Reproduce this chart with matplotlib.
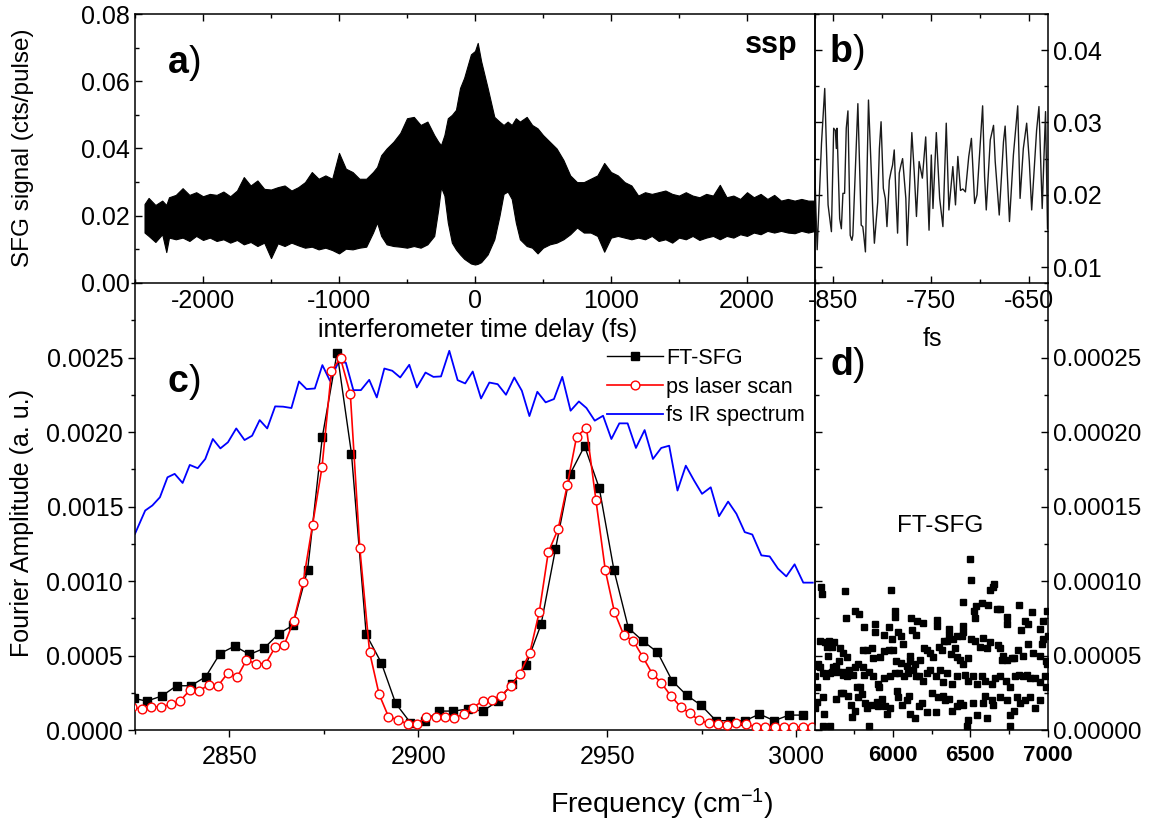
import matplotlib

matplotlib.use("Agg")
import matplotlib.pyplot as plt
from matplotlib.ticker import MultipleLocator, FormatStrFormatter, FixedLocator
import numpy as np

W, H = 1153, 822

# ---- panel a: interferogram, envelope (fs, cts/pulse)
a_delay = [-2430, -2400, -2350, -2300, -2270, -2250, -2200, -2150, -2100, -2050,
           -2000, -1950, -1900, -1850, -1800, -1750, -1700, -1650, -1600, -1550,
           -1500, -1450, -1400, -1350, -1300, -1250, -1200, -1150, -1100, -1050,
           -1000, -950, -900, -850, -800, -750, -720, -690, -650, -600,
           -550, -500, -450, -400, -350, -300, -270, -250, -225, -200,
           -170, -140, -110, -80, -30, 0, 20, 45, 93, 142,
           180, 210, 240, 270, 300, 330, 380, 420, 460, 500,
           550, 600, 650, 700, 750, 800, 850, 900, 950, 1000,
           1050, 1100, 1150, 1200, 1250, 1300, 1350, 1400, 1450, 1500,
           1550, 1600, 1650, 1700, 1750, 1800, 1850, 1900, 1950, 2000,
           2050, 2100, 2150, 2200, 2250, 2300, 2350, 2400, 2450, 2500]
a_upper = [0.0235, 0.0253, 0.0232, 0.0245, 0.0232, 0.0255, 0.0262, 0.0282, 0.0262, 0.0270,
           0.0258, 0.0265, 0.0262, 0.0272, 0.0258, 0.0275, 0.0315, 0.0290, 0.0305, 0.0280,
           0.0278, 0.0285, 0.0290, 0.0275, 0.0285, 0.0300, 0.0330, 0.0310, 0.0320, 0.0310,
           0.0387, 0.0340, 0.0330, 0.0310, 0.0310, 0.0330, 0.0345, 0.0380, 0.0400, 0.0420,
           0.0446, 0.0490, 0.0494, 0.0470, 0.0480, 0.0440, 0.0420, 0.0410, 0.0440, 0.0490,
           0.0500, 0.0515, 0.0580, 0.0610, 0.0680, 0.0690, 0.0714, 0.0660, 0.0580, 0.0494,
           0.0480, 0.0470, 0.0480, 0.0470, 0.0490, 0.0480, 0.0494, 0.0470, 0.0460, 0.0440,
           0.0420, 0.0400, 0.0366, 0.0320, 0.0300, 0.0300, 0.0310, 0.0320, 0.0357, 0.0330,
           0.0320, 0.0300, 0.0290, 0.0260, 0.0270, 0.0265, 0.0270, 0.0275, 0.0265, 0.0260,
           0.0270, 0.0260, 0.0255, 0.0265, 0.0260, 0.0292, 0.0255, 0.0260, 0.0250, 0.0270,
           0.0255, 0.0265, 0.0250, 0.0262, 0.0245, 0.0250, 0.0245, 0.0250, 0.0245, 0.0245]
a_lower = [0.0150, 0.0140, 0.0122, 0.0145, 0.0092, 0.0135, 0.0130, 0.0135, 0.0125, 0.0140,
           0.0128, 0.0135, 0.0125, 0.0130, 0.0120, 0.0128, 0.0115, 0.0122, 0.0110, 0.0120,
           0.0074, 0.0118, 0.0110, 0.0120, 0.0112, 0.0105, 0.0108, 0.0100, 0.0105, 0.0098,
           0.0088, 0.0102, 0.0100, 0.0105, 0.0108, 0.0150, 0.0180, 0.0140, 0.0115, 0.0110,
           0.0108, 0.0105, 0.0110, 0.0105, 0.0115, 0.0140, 0.0220, 0.0285, 0.0260, 0.0180,
           0.0120, 0.0100, 0.0085, 0.0072, 0.0058, 0.0055, 0.0057, 0.0062, 0.0085, 0.0130,
           0.0200, 0.0265, 0.0272, 0.0250, 0.0180, 0.0130, 0.0110, 0.0105, 0.0088, 0.0105,
           0.0115, 0.0120, 0.0130, 0.0145, 0.0165, 0.0150, 0.0150, 0.0140, 0.0093, 0.0135,
           0.0140, 0.0135, 0.0130, 0.0135, 0.0130, 0.0140, 0.0125, 0.0130, 0.0120, 0.0135,
           0.0130, 0.0140, 0.0128, 0.0135, 0.0140, 0.0130, 0.0140, 0.0135, 0.0145, 0.0140,
           0.0150, 0.0145, 0.0155, 0.0150, 0.0155, 0.0150, 0.0148, 0.0155, 0.0150, 0.0155]

# ---- panel b: zoom of the interferogram (fs, cts/pulse)
b_delay = [-868.2, -865.8, -861.4, -858.1, -854.7, -851.3, -849.0, -847.3, -846.3, -845.6,
           -842.9, -841.2, -839.6, -837.9, -836.2, -834.5, -832.2, -830.5, -829.5, -824.4,
           -821.0, -819.4, -818.4, -816.7, -813.6, -809.3, -807.6, -804.2, -802.5, -800.8,
           -798.5, -796.5, -794.8, -792.4, -790.7, -789.1, -787.4, -785.7, -784.0, -782.3,
           -780.6, -778.9, -775.6, -774.2, -769.5, -767.1, -764.8, -762.1, -758.8, -755.4,
           -752.0, -749.7, -748.0, -744.6, -741.2, -737.9, -734.5, -731.8, -727.8, -725.1,
           -722.7, -720.0, -717.6, -715.0, -711.6, -708.9, -705.6, -703.2, -697.5, -695.5,
           -693.8, -689.7, -686.4, -684.7, -680.6, -676.3, -674.6, -670.2, -666.2, -661.8,
           -659.4, -656.1, -652.7, -650.0, -647.6, -642.6, -640.2, -636.9, -633.5, -631.5]
b_signal = [0.0232, 0.0124, 0.0271, 0.0347, 0.0186, 0.0149, 0.0292, 0.0289, 0.0264, 0.0292,
            0.0167, 0.0153, 0.0202, 0.0202, 0.0292, 0.0316, 0.0144, 0.0137, 0.0144, 0.0326,
            0.0158, 0.0156, 0.0144, 0.0121, 0.0331, 0.0181, 0.0133, 0.0190, 0.0264, 0.0301,
            0.0209, 0.0195, 0.0156, 0.0220, 0.0232, 0.0241, 0.0262, 0.0200, 0.0147, 0.0230,
            0.0241, 0.0250, 0.0195, 0.0130, 0.0286, 0.0232, 0.0170, 0.0246, 0.0223, 0.0280,
            0.0151, 0.0255, 0.0181, 0.0286, 0.0195, 0.0156, 0.0299, 0.0179, 0.0239, 0.0186,
            0.0253, 0.0206, 0.0208, 0.0204, 0.0253, 0.0278, 0.0188, 0.0200, 0.0323, 0.0225,
            0.0179, 0.0276, 0.0296, 0.0246, 0.0172, 0.0273, 0.0295, 0.0163, 0.0255, 0.0323,
            0.0195, 0.0264, 0.0299, 0.0246, 0.0179, 0.0289, 0.0322, 0.0181, 0.0315, 0.0153]

# ---- panel c: spectra (cm-1, a.u.)
ft_freq = [2824.7, 2828.1, 2832.1, 2836.0, 2839.8, 2843.7, 2847.5, 2851.4, 2855.3, 2859.1,
           2863.0, 2866.8, 2870.7, 2874.6, 2878.5, 2882.3, 2886.2, 2890.2, 2894.0, 2897.9,
           2901.7, 2905.5, 2909.3, 2913.2, 2917.1, 2921.0, 2924.7, 2928.5, 2932.5, 2936.3,
           2940.2, 2944.0, 2947.9, 2951.8, 2955.6, 2959.5, 2963.3, 2967.2, 2971.0, 2974.9,
           2978.8, 2982.6, 2986.5, 2990.3, 2994.2, 2998.1, 3001.9]
ft_amp = [0.000212, 0.000194, 0.000228, 0.000297, 0.000297, 0.000357, 0.000513, 0.000563, 0.000507, 0.000547,
          0.000645, 0.000703, 0.001076, 0.001969, 0.002533, 0.001855, 0.000641, 0.000451, 0.000179, 0.000049,
          0.0000625, 0.000127, 0.000127, 0.000141, 0.000127, 0.000194, 0.000306, 0.000435, 0.000710, 0.001214,
          0.001719, 0.001906, 0.001623, 0.001071, 0.000685, 0.000596, 0.000522, 0.000330, 0.000234, 0.000165,
          0.0000625, 0.0000625, 0.0000625, 0.000107, 0.0000625, 0.000100, 0.000100]

ps_freq = [2824.3, 2826.8, 2829.3, 2831.9, 2834.5, 2837.0, 2839.5, 2841.9, 2844.5, 2847.0,
           2849.6, 2852.0, 2854.5, 2857.0, 2859.6, 2862.1, 2864.5, 2867.0, 2869.5, 2872.0,
           2874.5, 2877.0, 2879.4, 2882.0, 2884.5, 2887.1, 2889.6, 2892.1, 2894.7, 2897.2,
           2899.6, 2902.1, 2904.6, 2907.0, 2909.5, 2912.0, 2914.4, 2917.0, 2919.5, 2921.9,
           2924.5, 2926.9, 2929.5, 2932.0, 2934.4, 2937.0, 2939.4, 2941.9, 2944.5, 2947.0,
           2949.5, 2951.9, 2954.4, 2956.9, 2959.4, 2961.9, 2964.3, 2966.8, 2969.4, 2971.8,
           2974.3, 2976.9, 2979.3, 2981.8, 2984.2, 2986.8, 2989.3, 2991.7, 2994.3, 2996.7,
           2999.2, 3001.7, 3004.1]
ps_amp = [0.000152, 0.000141, 0.000156, 0.000156, 0.000172, 0.000196, 0.000268, 0.000263, 0.000301, 0.000297,
          0.000384, 0.000353, 0.000469, 0.000446, 0.000446, 0.000556, 0.000571, 0.000732, 0.000991, 0.001377,
          0.001763, 0.002411, 0.002495, 0.002254, 0.001223, 0.000522, 0.000241, 0.0000893, 0.0000670, 0.0000402,
          0.0000402, 0.0000848, 0.0000893, 0.0000893, 0.0000826, 0.000105, 0.000150, 0.000194, 0.000201, 0.000230,
          0.000295, 0.000379, 0.000518, 0.000790, 0.001194, 0.001348, 0.001641, 0.001969, 0.002027, 0.001545,
          0.001071, 0.000792, 0.000636, 0.000598, 0.000491, 0.000379, 0.000317, 0.000230, 0.000156, 0.000112,
          0.0000670, 0.0000446, 0.0000402, 0.0000312, 0.0000446, 0.0000379, 0.0000223, 0.0000223, 0.0000223, 0.0000179,
          0.0000179, 0.0000223, 0.0000179]

ir_freq = [2825.0, 2827.7, 2829.6, 2831.6, 2833.6, 2835.5, 2837.6, 2839.5, 2841.6, 2843.6,
           2845.6, 2847.6, 2849.6, 2851.8, 2854.0, 2856.0, 2858.0, 2860.0, 2862.1, 2864.2,
           2866.4, 2868.4, 2870.4, 2872.6, 2874.6, 2876.6, 2878.8, 2880.8, 2882.8, 2884.8,
           2887.0, 2889.0, 2891.0, 2893.1, 2895.2, 2897.6, 2899.6, 2901.9, 2904.0, 2906.0,
           2908.2, 2910.4, 2912.4, 2914.4, 2916.6, 2918.8, 2921.0, 2923.2, 2925.4, 2927.4,
           2929.4, 2931.5, 2933.7, 2935.9, 2938.1, 2940.3, 2942.5, 2944.5, 2946.7, 2948.9,
           2951.1, 2953.2, 2955.4, 2957.6, 2959.9, 2962.1, 2964.3, 2966.4, 2968.6, 2970.8,
           2973.0, 2975.1, 2977.4, 2979.6, 2982.0, 2984.2, 2986.4, 2988.4, 2990.8, 2993.0,
           2995.2, 2997.4, 2999.6, 3001.9, 3004.4]
ir_amp = [0.001317, 0.001473, 0.001507, 0.001562, 0.001696, 0.001719, 0.001658, 0.001779, 0.001757, 0.001819,
          0.001953, 0.001890, 0.001931, 0.002024, 0.001946, 0.001975, 0.002080, 0.002024, 0.002172, 0.002170,
          0.002161, 0.002339, 0.002288, 0.002292, 0.002449, 0.002344, 0.002466, 0.002466, 0.002281, 0.002281,
          0.002350, 0.002232, 0.002426, 0.002411, 0.002366, 0.002451, 0.002299, 0.002399, 0.002370, 0.002373,
          0.002545, 0.002348, 0.002326, 0.002406, 0.002225, 0.002332, 0.002321, 0.002250, 0.002366, 0.002277,
          0.002107, 0.002270, 0.002199, 0.002221, 0.002370, 0.002143, 0.002205, 0.002161, 0.002076, 0.002109,
          0.001953, 0.002058, 0.002058, 0.001893, 0.002013, 0.001819, 0.001893, 0.001908, 0.001607, 0.001774,
          0.001674, 0.001585, 0.001629, 0.001435, 0.001533, 0.001451, 0.001328, 0.001312, 0.001172, 0.001165,
          0.001083, 0.001031, 0.001112, 0.000989, 0.000989]

# ---- panel d: FT-SFG at high frequency (cm-1, amplitude in 1e-5 a.u.)
d_freq = [5537, 5543, 5695, 5700, 5758, 5786, 5816, 5886, 5886, 5944, 5977, 5989, 5994, 6017, 6015,
          6037, 6052, 6069, 6118, 6123, 6155, 6150, 6198, 6283, 6288, 6365, 6365, 6451, 6451, 6455,
          6498, 6502, 6524, 6530, 6537, 6573, 6616, 6627, 6644, 6653, 6670, 6691, 6734, 6734, 6814,
          6826, 6852, 6874, 6895, 6949, 6966, 6996, 7000,
          5532, 5565, 5592, 5622, 5575, 5607, 5661, 5683, 5704, 5586, 5657, 5635, 5607, 5683, 5721,
          5758, 5779, 5811, 5811, 5837, 5865, 5876, 5919, 5944, 5979, 6005, 6022, 6052, 6090, 6112,
          6112, 6144, 6176, 6202, 6223, 6241, 6262, 6301, 6316, 6331, 6352, 6386, 6401, 6412, 6444,
          6374, 6412, 6434, 6451, 6487, 6502, 6530, 6562, 6584, 6605, 6627, 6680, 6691, 6713, 6706,
          6734, 6766, 6781, 6809, 6841, 6874, 6906, 6949, 6960, 6970, 6987, 6996, 5494, 5522, 5532,
          5500, 5511, 5550, 5571, 5597, 5614, 5650, 5683, 5708, 5747, 5768, 5790, 5816, 5850, 5876,
          5908, 5914, 5944, 5983, 6015, 6043, 6073, 6101, 6133, 6150, 6172, 6198, 6219, 6241, 6279,
          6305, 6326, 6348, 6380, 6412, 6466, 6487, 6520, 6541, 6573, 6595, 6638, 6659, 6691, 6730,
          6756, 6788, 6816, 6841, 6863, 6884, 6917, 6949, 6981, 6987,
          5500, 5511, 5554, 5558, 5550, 5597, 5635, 5665, 5683, 5715, 5730, 5736, 5758, 5779, 5801,
          5822, 5837, 5850, 5865, 5897, 5908, 5929, 5951, 5966, 5983, 6026, 6037, 6058, 6090, 6107,
          6112, 6144, 6172, 6187, 6219, 6251, 6279, 6294, 6322, 6337, 6365, 6380, 6412, 6434, 6455,
          6477, 6483, 6520, 6541, 6580, 6595, 6605, 6638, 6648, 6691, 6734, 6756, 6756, 6781, 6799,
          6820, 6852, 6884, 6917, 6949]
d_amp_e5 = [9.6, 9.1, 9.3, 7.5, 8.0, 7.8, 6.9, 7.1, 6.6, 6.4, 6.9, 9.4, 6.1, 8.0, 7.6,
            6.6, 6.3, 5.8, 7.5, 6.7, 7.3, 6.4, 7.2, 7.4, 7.0, 6.8, 6.4, 8.6, 7.0, 6.6,
            11.5, 10.1, 8.0, 7.5, 8.3, 8.5, 8.4, 9.4, 9.6, 9.8, 8.1, 8.1, 7.6, 7.1, 8.4,
            6.7, 7.3, 7.1, 7.9, 6.8, 7.3, 8.0, 6.3,
            6.0, 5.9, 6.0, 5.9, 5.6, 5.6, 5.5, 5.2, 4.9, 5.0, 4.6, 4.3, 3.9, 3.9, 4.0,
            4.2, 4.4, 4.2, 5.4, 5.4, 5.5, 4.8, 4.9, 5.3, 5.4, 5.4, 4.6, 4.5, 4.3, 5.0,
            4.6, 4.4, 4.7, 5.5, 5.4, 5.2, 4.9, 5.6, 5.4, 6.0, 6.0, 6.1, 5.5, 6.3, 6.3,
            5.1, 4.9, 4.7, 4.4, 4.8, 6.1, 6.0, 5.6, 6.2, 5.5, 5.9, 5.7, 5.5, 5.0, 4.7,
            4.7, 4.8, 4.8, 5.4, 5.0, 5.8, 5.2, 5.0, 5.8, 6.1, 4.6, 4.4, 4.3, 4.4, 4.2,
            3.6, 2.9, 3.8, 3.6, 3.8, 4.2, 3.9, 3.7, 3.6, 3.7, 2.9, 2.9, 3.7, 3.9, 3.6,
            3.1, 2.9, 3.5, 3.6, 3.8, 3.8, 3.6, 3.8, 4.0, 3.6, 3.6, 3.3, 3.8, 4.0, 3.6,
            4.0, 3.2, 3.8, 3.1, 3.6, 3.7, 3.3, 3.6, 3.1, 3.6, 3.3, 3.1, 3.5, 3.6, 3.3,
            2.9, 3.6, 3.7, 3.6, 3.7, 3.5, 3.5, 3.2, 3.6, 2.9,
            1.5, 1.9, 2.2, 1.1, 0.3, 0.3, 2.1, 2.5, 2.5, 2.3, 1.7, 0.9, 1.3, 2.2, 2.4,
            1.8, 1.5, 0.3, 1.7, 1.9, 1.6, 2.1, 1.6, 1.1, 1.5, 2.6, 2.2, 1.7, 2.0, 2.3,
            1.1, 0.8, 1.6, 1.8, 1.2, 2.5, 1.2, 2.2, 2.3, 2.0, 2.1, 1.3, 1.6, 1.8, 1.7,
            0.3, 0.7, 1.8, 1.0, 1.8, 2.3, 0.8, 2.0, 1.7, 2.2, 2.0, 1.0, 0.3, 1.3, 2.2,
            1.8, 2.0, 2.2, 1.5, 2.0]

plt.rcParams.update({
    "font.family": ["Liberation Sans", "DejaVu Sans"],
    "font.size": 18,
    "mathtext.default": "regular",
    "axes.unicode_minus": False,
    "axes.linewidth": 1.1,
    "xtick.major.width": 1.0,
    "ytick.major.width": 1.0,
    "xtick.minor.width": 1.0,
    "ytick.minor.width": 1.0,
    "xtick.major.size": 5,
    "ytick.major.size": 5,
    "xtick.minor.size": 3,
    "ytick.minor.size": 3,
})


def box(x0, y0, x1, y1):
    return [x0 / W, 1 - y1 / H, (x1 - x0) / W, (y1 - y0) / H]


fig = plt.figure(figsize=(W / 100, H / 100), dpi=100)
ax_c = fig.add_axes(box(135, 283, 815, 730))
ax_d = fig.add_axes(box(815, 283, 1048, 730))
ax_a = fig.add_axes(box(135, 14, 815, 283))
ax_b = fig.add_axes(box(815, 14, 1048, 283))
for ax in (ax_a, ax_b, ax_c, ax_d):
    ax.patch.set_visible(False)

# a) interferogram
ax_a.fill_between(a_delay, a_lower, a_upper, color="black", lw=0.8)
ax_a.set_xlim(-2500, 2500)
ax_a.set_ylim(0, 0.08)
ax_a.xaxis.set_major_locator(MultipleLocator(1000))
ax_a.xaxis.set_minor_locator(MultipleLocator(500))
ax_a.yaxis.set_major_locator(MultipleLocator(0.02))
ax_a.yaxis.set_minor_locator(MultipleLocator(0.01))
ax_a.yaxis.set_major_formatter(FormatStrFormatter("%.2f"))
ax_a.tick_params(which="both", direction="in", top=True, right=False, labelsize=18)
ax_a.tick_params(axis="x", pad=4)

# b) zoom
ax_b.plot(b_delay, b_signal, color="#1a1a1a", lw=1.0)
ax_b.set_xlim(-868, -631)
ax_b.set_ylim(0.0078, 0.045)
ax_b.xaxis.set_major_locator(FixedLocator([-850, -750, -650]))
ax_b.xaxis.set_minor_locator(FixedLocator([-800, -700]))
ax_b.yaxis.set_major_locator(FixedLocator([0.01, 0.02, 0.03, 0.04]))
ax_b.yaxis.set_minor_locator(MultipleLocator(0.005))
ax_b.yaxis.set_major_formatter(FormatStrFormatter("%.2f"))
ax_b.tick_params(which="both", direction="in", top=True, left=True, right=True,
                 labelleft=False, labelright=True, labelsize=18)
ax_b.tick_params(axis="x", pad=4)

# c) spectra
ax_c.plot(ft_freq, ft_amp, color="black", lw=1.0, marker="s", ms=5.5,
          label="FT-SFG", zorder=3)
ax_c.plot(ps_freq, ps_amp, color="red", lw=1.2, marker="o", ms=6.3, mfc="white",
          mec="red", mew=1.0, label="ps laser scan", zorder=4)
ax_c.plot(ir_freq, ir_amp, color="#0000ff", lw=1.3, label="fs IR spectrum", zorder=2)
ax_c.set_xlim(2825, 3005)
ax_c.set_ylim(0, 0.003)
ax_c.xaxis.set_major_locator(MultipleLocator(50))
ax_c.xaxis.set_minor_locator(MultipleLocator(25))
ax_c.yaxis.set_major_locator(FixedLocator([0, 0.0005, 0.001, 0.0015, 0.002, 0.0025]))
ax_c.yaxis.set_minor_locator(MultipleLocator(0.00025))
ax_c.yaxis.set_major_formatter(FormatStrFormatter("%.4f"))
ax_c.tick_params(which="both", direction="out", top=False, right=False, labelsize=18)
ax_c.tick_params(axis="x", pad=6)
ax_c.spines["top"].set_visible(False)
ax_c.legend(loc="upper left", bbox_to_anchor=((607 - 135) / 680, (730 - 348) / 447),
            frameon=False, fontsize=15.5, handlelength=2.6, handletextpad=0.15,
            borderpad=0, borderaxespad=0, labelspacing=0.35)

# d) high-frequency noise floor
ax_d.plot(d_freq, np.array(d_amp_e5) * 1e-5, ls="none", marker="s", ms=3.8,
          color="black", clip_on=True)
ax_d.set_xlim(5500, 7000)
ax_d.set_ylim(0, 0.0003)
ax_d.xaxis.set_major_locator(FixedLocator([6000, 6500, 7000]))
ax_d.xaxis.set_minor_locator(FixedLocator([5750, 6250, 6750]))
ax_d.yaxis.set_major_locator(FixedLocator([0, 0.00005, 0.0001, 0.00015, 0.0002, 0.00025]))
ax_d.yaxis.set_minor_locator(MultipleLocator(0.000025))
ax_d.yaxis.set_major_formatter(FormatStrFormatter("%.5f"))
ax_d.tick_params(axis="y", which="both", direction="in", left=True, right=True,
                 labelleft=False, labelright=True, labelsize=17.5)
ax_d.tick_params(axis="x", which="both", direction="out", top=False, labelsize=16, pad=6)
for lab in ax_d.get_xticklabels():
    lab.set_fontweight("bold")
ax_d.spines["top"].set_visible(False)

# axis titles
fig.text(23 / W, 1 - 148 / H, "SFG signal (cts/pulse)", rotation=90, ha="center",
         va="center", fontsize=17.5)
fig.text(22 / W, 1 - 523 / H, "Fourier Amplitude (a. u.)", rotation=90, ha="center",
         va="center", fontsize=18)
fig.text(478 / W, 1 - 337 / H, "interferometer time delay (fs)", ha="center",
         va="baseline", fontsize=18)
fig.text(932 / W, 1 - 346 / H, "fs", ha="center", va="baseline", fontsize=18)
fig.text(662 / W, 1 - 813 / H, "Frequency (cm$^{-1}$)", ha="center", va="baseline",
         fontsize=20.5)


def panel_label(x, y, letter):
    t = fig.text(x / W, 1 - y / H, letter, fontsize=27, fontweight="bold",
                 ha="left", va="baseline")
    ax_a.annotate(")", xy=(1, 0), xycoords=t, ha="left", va="bottom",
                  fontsize=27, annotation_clip=False)


panel_label(168, 73, "a")
panel_label(830, 62, "b")
panel_label(168, 392, "c")
panel_label(830, 375, "d")
fig.text(798 / W, 1 - 53 / H, "ssp", ha="right", va="baseline", fontsize=22,
         fontweight="bold")
fig.text(940 / W, 1 - 532 / H, "FT-SFG", ha="center", va="baseline", fontsize=17.5)

fig.savefig("out.png", dpi=100)
